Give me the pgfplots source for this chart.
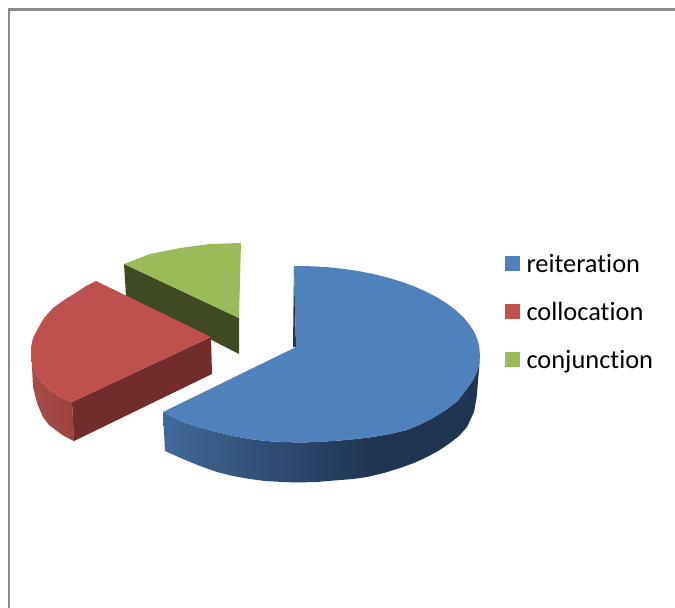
\documentclass[border=0pt]{standalone}
\usepackage{fontspec}
\setmainfont[Ligatures=NoCommon]{Carlito}
\usepackage{pgfplots}
\pgfplotsset{compat=1.18}
\definecolor{bluetop}{HTML}{4F81BD}
\definecolor{blueside}{HTML}{1F3552}
\definecolor{bluewalla}{HTML}{41699A}
\definecolor{bluewallb}{HTML}{2F4D74}
\definecolor{redtop}{HTML}{C0504D}
\definecolor{redwalla}{HTML}{AA4C49}
\definecolor{redwallb}{HTML}{9A4240}
\definecolor{greentop}{HTML}{9BBB59}
\definecolor{greenside}{HTML}{3F4A22}
\definecolor{redside}{HTML}{722C2B}
\definecolor{frame}{HTML}{8C8C8C}
% side walls of the two curved slices
\pgfdeclarehorizontalshading{bluewall}{100bp}{
  color(0bp)=(bluewalla);
  color(25bp)=(bluewalla);
  color(42bp)=(bluewallb);
  color(58bp)=(blueside);
  color(100bp)=(blueside)}
\pgfdeclarehorizontalshading{redwall}{100bp}{
  color(0bp)=(redwalla);
  color(25bp)=(redwalla);
  color(75bp)=(redwallb);
  color(100bp)=(redwallb)}
\begin{document}
\begin{tikzpicture}
\useasboundingbox (0,0) rectangle (675pt,608pt);
\begin{axis}[
  at={(0,0)}, anchor=south west,
  scale only axis, width=675pt, height=608pt,
  xmin=0, xmax=675, ymin=0, ymax=608, y dir=reverse,
  hide axis,
  reverse legend,
  legend cell align=left,
  legend style={at={(axis cs:505,253)}, anchor=north west, draw=none, fill=none,
    inner sep=0pt, outer sep=0pt,
    font=\fontsize{26.4}{30}\selectfont,
    nodes={inner sep=0pt, outer sep=0pt, text height=19pt, text depth=7pt},
    /tikz/every odd column/.append style={column sep=6.5pt},
    row sep=22pt},
  legend image code/.code={\fill[#1] (0pt,-4.5pt) rectangle (15pt,10.5pt);},
]
% page frame
\addplot[forget plot, frame, line width=2.2pt] coordinates {(9,608) (9,9.5) (675,9.5)};

% conjunction
\addplot[forget plot, fill=greenside, draw=none] coordinates
  {(124,264) (239,318) (239,354) (126,296)} -- cycle;
\addplot[fill=greentop, draw=none] coordinates
  {(241,243) (210,244) (180,248) (150,254) (124,264) (239,318)} -- cycle;
\addlegendentry{conjunction}

% collocation
\addplot[forget plot, shading=redwall, draw=none] coordinates
  {(31,347) (33,367) (37,376) (43,383) (50,390) (57,395) (64,399) (72,402) (74,441) (64,436) (57,431)
   (49,425) (43,417) (37,403) (33,387)} -- cycle;
\addplot[forget plot, fill=redside, draw=none] coordinates
  {(72,402) (211,337) (212,374) (74,441)} -- cycle;
\addplot[fill=redtop, draw=none] coordinates
  {(211,337) (96,281) (86,286) (77,292) (64,300) (53,308) (44,318) (37,330) (33,338) (31,347) (31,357)
   (33,367) (37,376) (43,383) (50,390) (57,395) (64,399) (72,402)} -- cycle;
\addlegendentry{collocation}

% reiteration
\addplot[forget plot, fill=blueside, draw=none] coordinates
  {(294,266) (296,347) (293,347)} -- cycle;
\addplot[forget plot, shading=bluewall, draw=none] coordinates
  {(480,357) (479,364) (477,372) (473,380) (465,391.5) (456.7,401.7) (445,410.5) (433,418) (420,424.5)
   (407,430) (390,434) (373,437) (356,439) (340,440.5) (317,442) (300,442.5) (283,442) (266,441)
   (250,439) (233,436) (217,432) (200,427.5) (183,422) (163,412)
   (165,451) (183,459) (200,466) (217,472) (233,476) (250,479) (265,481) (283,482) (297,482.5) (317,482)
   (340,480) (353,479) (367,477) (384,473) (400,468) (414,463) (427,457) (439,450.5) (450,443) (459,436)
   (467,427) (474,412) (476.7,397)} -- cycle;
\addplot[fill=bluetop, draw=none] coordinates
  {(294,266) (313,266.3) (328.8,267.3) (344.4,269) (359.6,271.3) (374.3,274.2) (388.5,277.8) (402,281.9)
   (414.6,286.6) (426.4,291.8) (437.2,297.4) (446.9,303.5) (455.5,310) (462.9,316.8) (469,323.9)
   (473.8,331.2) (477.2,338.7) (479.3,346.3) (480,357) (479,364) (477,372) (473,380) (465,391.5)
   (456.7,401.7) (445,410.5) (433,418) (420,424.5) (407,430) (390,434) (373,437) (356,439) (340,440.5)
   (317,442) (300,442.5) (283,442) (266,441) (250,439) (233,436) (217,432) (200,427.5) (183,422)
   (163,412) (296,347)} -- cycle;
\addlegendentry{reiteration}
\end{axis}
\end{tikzpicture}
\end{document}
